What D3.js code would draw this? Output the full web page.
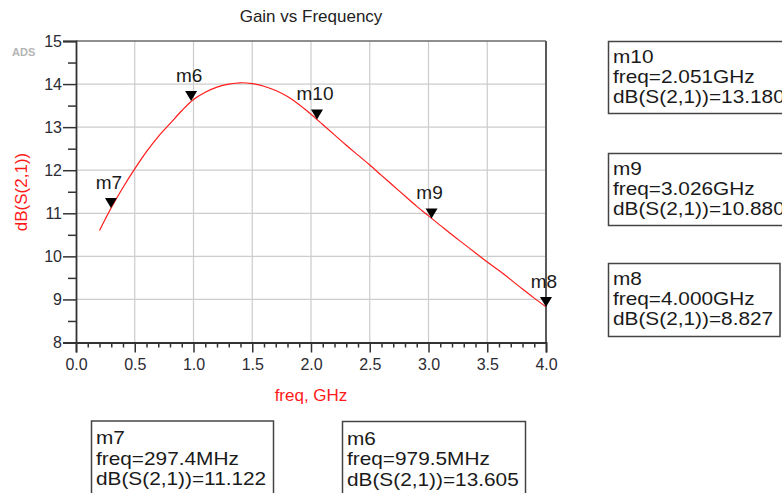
<!DOCTYPE html>
<html><head><meta charset="utf-8">
<script src="https://cdn.jsdelivr.net/npm/d3@7"></script>
<style>
html,body{margin:0;padding:0;background:#fff;}
svg{display:block;font-family:"Liberation Sans",Arial,sans-serif;}
</style></head>
<body>
<svg id="chart" width="782" height="493"></svg>
<script>
// ---- data ----
const freqGHz = [0.2,0.3,0.4,0.5,0.6,0.7,0.8,0.9,1.0,1.1,1.2,1.3,1.4,1.5,1.6,1.7,1.8,1.9,2.0,2.1,2.2,2.3,2.4,2.5,2.6,2.7,2.8,2.9,3.0,3.1,3.2,3.3,3.4,3.5,3.6,3.7,3.8,3.9,4.0];
const gainDB  = [10.60,11.13,11.60,12.03,12.43,12.78,13.08,13.38,13.64,13.81,13.93,14.00,14.03,14.01,13.95,13.85,13.71,13.52,13.30,13.06,12.82,12.58,12.35,12.12,11.88,11.64,11.40,11.16,10.94,10.72,10.50,10.29,10.08,9.87,9.67,9.46,9.24,9.03,8.827];
const xTicks = [0.0,0.5,1.0,1.5,2.0,2.5,3.0,3.5,4.0];
const yTicks = [8,9,10,11,12,13,14,15];
const markerNames = ["m7","m6","m10","m9","m8"];
const markerFreq  = [0.2974,0.9795,2.051,3.026,4.000];
const markerGain  = [11.122,13.605,13.180,10.880,8.827];
const markerFreqText = ["297.4MHz","979.5MHz","2.051GHz","3.026GHz","4.000GHz"];
const markerGainText = ["11.122","13.605","13.180","10.880","8.827"];
const titleText = "Gain vs Frequency";
const xLabel = "freq, GHz";
const yLabel = "dB(S(2,1))";

// ---- layout ----
const svg = d3.select("#chart");
const L = 76, R = 546, T = 41, B = 342.5;
const x = d3.scaleLinear().domain([0,4]).range([L,R]);
const y = d3.scaleLinear().domain([8,15]).range([B,T]);
const red = "#ff1a1a";

// grid
svg.append("g").selectAll("line").data(xTicks.slice(1,-1)).join("line")
  .attr("x1",d=>x(d)).attr("x2",d=>x(d)).attr("y1",T).attr("y2",B)
  .attr("stroke","#cccccc").attr("stroke-width",1.2);
svg.append("g").selectAll("line").data(yTicks.slice(1,-1)).join("line")
  .attr("x1",L).attr("x2",R).attr("y1",d=>y(d)).attr("y2",d=>y(d))
  .attr("stroke","#cccccc").attr("stroke-width",1.2);

// frame top/right
svg.append("line").attr("x1",L).attr("x2",R).attr("y1",T).attr("y2",T).attr("stroke","#6a6a6a").attr("stroke-width",1.5);
svg.append("line").attr("x1",R).attr("x2",R).attr("y1",T).attr("y2",B).attr("stroke","#5a5a5a").attr("stroke-width",2);

// y axis
const yAxis = d3.axisLeft(y).tickValues(yTicks).tickFormat(d3.format("d")).tickSize(13).tickPadding(1);
const gy = svg.append("g").attr("transform",`translate(${L},0)`).call(yAxis);
gy.select(".domain").attr("stroke","#333").attr("stroke-width",1.8);
gy.selectAll(".tick line").attr("stroke","#333").attr("stroke-width",1.5);
gy.selectAll(".tick text").attr("font-size",16).attr("fill","#2b2b33").attr("font-family","Liberation Sans, Arial, sans-serif");
const yMinor = d3.axisLeft(y).tickValues(d3.range(8.5,15,1)).tickFormat("").tickSize(8);
const gym = svg.append("g").attr("transform",`translate(${L},0)`).call(yMinor);
gym.select(".domain").remove();
gym.selectAll(".tick line").attr("stroke","#333").attr("stroke-width",1.5);

// x axis
const xAxis = d3.axisBottom(x).tickValues(xTicks).tickFormat(d3.format(".1f")).tickSize(10).tickPadding(6);
const gx = svg.append("g").attr("transform",`translate(0,${B})`).call(xAxis);
gx.select(".domain").attr("stroke","#333").attr("stroke-width",1.8);
gx.selectAll(".tick line").attr("stroke","#333").attr("stroke-width",1.5);
gx.selectAll(".tick text").attr("font-size",16).attr("fill","#2b2b33").attr("font-family","Liberation Sans, Arial, sans-serif");
const xMinor = d3.axisBottom(x).tickValues(d3.range(0.1,4,0.1).filter(v=>Math.abs(v*2-Math.round(v*2))>0.01)).tickFormat("").tickSize(5);
const gxm = svg.append("g").attr("transform",`translate(0,${B})`).call(xMinor);
gxm.select(".domain").remove();
gxm.selectAll(".tick line").attr("stroke","#333").attr("stroke-width",1.5);

// curve
const line = d3.line().x((d,i)=>x(freqGHz[i])).y(d=>y(d)).curve(d3.curveCatmullRom);
svg.append("path").datum(gainDB).attr("d",line).attr("fill","none").attr("stroke",red).attr("stroke-width",1.2);

// markers
const mk = svg.append("g");
markerNames.forEach((n,i)=>{
  const px = x(markerFreq[i]), py = y(markerGain[i]);
  mk.append("path").attr("d",`M${px-6},${py-10}L${px+6},${py-10}L${px},${py}Z`).attr("fill","#000");
  mk.append("text").attr("x",px-2).attr("y",py-19).attr("text-anchor","middle")
    .attr("font-size",19).attr("fill","#1a1a1a").text(n);
});

// title & labels
svg.append("text").attr("x",311).attr("y",22).attr("text-anchor","middle").attr("font-size",17).attr("fill","#222").text(titleText);
svg.append("text").attr("x",311).attr("y",401).attr("text-anchor","middle").attr("font-size",17).attr("fill",red).text(xLabel);
svg.append("text").attr("transform","translate(27,192) rotate(-90)").attr("text-anchor","middle").attr("font-size",17).attr("fill",red).text(yLabel);
svg.append("text").attr("x",12).attr("y",56).attr("font-size",11).attr("font-weight","bold").attr("fill","#b4b4b4").text("ADS");

// marker readout boxes
const boxes = [
  {i:0, x:91.5, y:421, w:182, h:90},
  {i:1, x:342.5, y:421.5, w:183, h:90},
  {i:2, x:608.5, y:41.5, w:200, h:72},
  {i:3, x:608.5, y:153.5, w:200, h:72},
  {i:4, x:608.5, y:263.5, w:171.5, h:73}
];
boxes.forEach(b=>{
  const g = svg.append("g");
  g.append("rect").attr("x",b.x).attr("y",b.y).attr("width",b.w).attr("height",b.h)
    .attr("fill","#fff").attr("stroke","#444").attr("stroke-width",1.5);
  const lines = [markerNames[b.i], "freq="+markerFreqText[b.i], "dB(S(2,1))="+markerGainText[b.i]];
  const off = b.y < 400 ? [21.5,41.5,61.5] : [23,43.5,64];
  lines.forEach((t,k)=>{
    const tx = g.append("text").attr("x",b.x+4.5).attr("y",b.y+off[k]).attr("font-size",17.8).attr("fill","#1a1a1a").text(t);
    const len = tx.node().getComputedTextLength();
    tx.attr("textLength",len*1.17).attr("lengthAdjust","spacingAndGlyphs");
  });
});
</script>
</body></html>
